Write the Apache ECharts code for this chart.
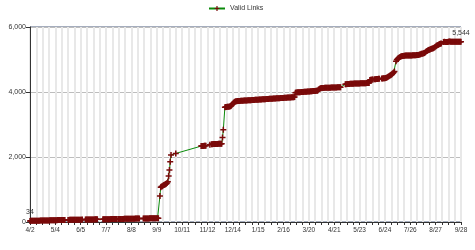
<!DOCTYPE html>
<html><head><meta charset="utf-8">
<script src="https://cdn.jsdelivr.net/npm/echarts@6/dist/echarts.min.js"></script>
<style>html,body{margin:0;padding:0;background:#fff}#c{width:475px;height:250px}</style>
</head><body><div id="c"></div>
<script>
// Daily values, 2009-04-02 .. 2010-09-28 (null = no reading that day)
const apr09 = [34,35,36,36,37,38,38,39,40,40,41,42,42,43,44,44,45,46,46,47,48,48,49,50,50,51,52,52,53];
const may09 = [54,54,55,56,56,57,58,58,59,60,60,61,62,62,63,64,null,null,null,65,65,66,66,67,67,68,68,69,69,70,70];
const jun09 = [71,71,72,72,73,73,74,null,null,null,75,75,76,76,77,77,78,78,79,79,80,80,81,81,82,82,null,null,null,null];
const jul09 = [null,null,84,84,85,85,86,86,87,87,88,88,89,89,90,90,91,91,92,92,null,93,93,94,94,95,95,96,96,97,97];
const aug09 = [98,98,99,99,100,100,101,101,102,102,103,103,104,104,105,105,106,106,null,null,null,null,108,108,109,109,110,110,111,111,112];
const sep09 = [112,113,113,114,114,115,115,116,116,117,118,null,800,1070,1090,1100,1120,1140,1150,1160,1180,1200,1240,1415,1600,1855,2060,null,null,null];
const oct09 = [null,null,2110,null,null,null,null,null,null,null,null,null,null,null,null,null,null,null,null,null,null,null,null,null,null,null,null,null,null,null,null];
const nov09 = [null,null,null,2335,2338,2340,2342,2344,2345,2348,null,null,null,null,2380,null,2395,2396,2397,2398,2399,2400,2401,2402,2403,2404,2405,2406,2408,2410];
const dec09 = [2600,2840,null,3530,3535,3540,3545,3548,3550,3555,3560,3580,3610,3640,3670,3690,3705,3715,3718,3720,3722,3724,3726,3728,3730,3731,3733,3735,3737,3738,3740];
const jan10 = [3742,3744,3745,3747,3749,3750,3752,3754,3755,3757,3759,3760,3762,3764,3765,3767,3769,3770,3772,3774,3775,3777,3779,3780,3782,3784,3785,3787,3789,3790,3792];
const feb10 = [3794,3795,3797,3799,3800,3802,3804,3805,3807,3809,3810,3812,3814,3815,3817,3819,3820,3822,3824,3825,3827,3829,3830,3832,3834,3835,3837,3839];
const mar10 = [3842,3845,3975,3985,3987,3989,3991,3993,3995,3997,3999,4001,4003,4005,4007,4009,4011,4013,4015,4017,4019,4021,4023,4025,4027,4029,4031,4033,4035,4037,4040];
const apr10 = [4070,4095,4110,4118,4122,4124,4125,4126,4127,4128,4129,4130,4131,4132,4133,4134,4135,4136,4137,4138,4139,4140,4141,4142,4143,4144,4145,4146,4147,null];
const may10 = [null,null,null,null,4240,4242,4244,4246,4248,4250,4252,4254,4255,4256,4257,4258,4259,4260,4261,4262,4263,4264,4265,4266,4267,4268,4269,4270,4271,4272,4273];
const jun10 = [4274,4275,4276,4278,4370,4375,4380,4385,4388,null,4392,4395,4398,4400,4402,4405,4408,null,null,4415,4418,4420,4422,4425,4430,4440,4455,4470,4485,4500];
const jul10 = [4515,4530,4550,4575,4600,4630,null,4950,4990,5020,5045,5065,5080,5090,5100,5105,5110,5115,5118,5120,5120,5122,5122,5124,5124,5125,5126,5126,5128,5128,5130];
const aug10 = [5132,5134,5136,5138,5140,5145,5155,5165,5175,5180,5185,5190,5200,5220,5245,5265,5280,5290,5300,5310,5320,5330,5340,5345,5360,5380,5400,5420,5435,5445,5460];
const sep10 = [5475,5485,5495,null,null,5540,5545,5540,5535,5535,5540,5550,5555,5555,5550,5545,5545,5545,5545,5545,5545,5545,5545,5545,5545,5544,5544,5544];

const seriesName = 'Valid Links';
const yTicks = [0, 2000, 4000, 6000];

const values = [].concat(apr09,may09,jun09,jul09,aug09,sep09,oct09,nov09,dec09,jan10,feb10,mar10,apr10,may10,jun10,jul10,aug10,sep10);

// category labels: one per day from 4/2/2009
const categories = [];
{
  const d = new Date(2009, 3, 2);
  for (let i = 0; i < values.length; i++) {
    categories.push((d.getMonth() + 1) + '/' + d.getDate());
    d.setDate(d.getDate() + 1);
  }
}

const data = values.map((v, i) => {
  if (v === null) return '-';
  if (i === 0 || i === values.length - 1) {
    return { value: v, label: { show: true, position: 'top', distance: 2,
      fontSize: 7, fontFamily: 'Liberation Sans', color: '#333',
      formatter: p => p.value.toLocaleString('en-US') } };
  }
  return v;
});

const plus = 'path://M3,0h2v3h3v2h-3v3h-2v-3h-3v-2h3z';

const chart = echarts.init(document.getElementById('c'));
chart.setOption({
  animation: false,
  backgroundColor: '#fff',
  textStyle: { fontFamily: 'Liberation Sans' },
  legend: {
    top: 0, left: 203,
    itemWidth: 16, itemHeight: 6, itemGap: 4,
    textStyle: { fontSize: 7, color: '#333', fontFamily: 'Liberation Sans' },
    data: [seriesName]
  },
  grid: { left: 30, right: 14, top: 27, bottom: 28, show: true,
    borderColor: '#4a5a7a', borderWidth: 1, backgroundColor: 'transparent' },
  xAxis: {
    type: 'category', data: categories, boundaryGap: false,
    axisLine: { lineStyle: { color: '#333', width: 1 } },
    axisTick: { show: true, interval: 7, length: 3, lineStyle: { color: '#333' } },
    axisLabel: { interval: 31, fontSize: 6.5, color: '#333', margin: 5, fontFamily: 'Liberation Sans' },
    splitLine: { show: true, interval: 7, lineStyle: { color: '#e8e8e8', width: 2 } }
  },
  yAxis: {
    type: 'value', min: yTicks[0], max: yTicks[yTicks.length - 1], interval: 2000,
    axisLine: { show: true, lineStyle: { color: '#333' } },
    axisTick: { show: true, length: 4, lineStyle: { color: '#333' } },
    axisLabel: { fontSize: 7, color: '#333', margin: 4, fontFamily: 'Liberation Sans',
      formatter: v => v.toLocaleString('en-US') },
    splitLine: { show: true, lineStyle: { color: '#bdbdbd', width: 1 } }
  },
  series: [{
    name: seriesName, type: 'line', data: data,
    connectNulls: true, showAllSymbol: true,
    symbol: plus, symbolSize: 6,
    lineStyle: { color: '#0a8a0a', width: 1 },
    itemStyle: { color: '#7a0a0a' },
    z: 3
  }]
});
</script></body></html>
